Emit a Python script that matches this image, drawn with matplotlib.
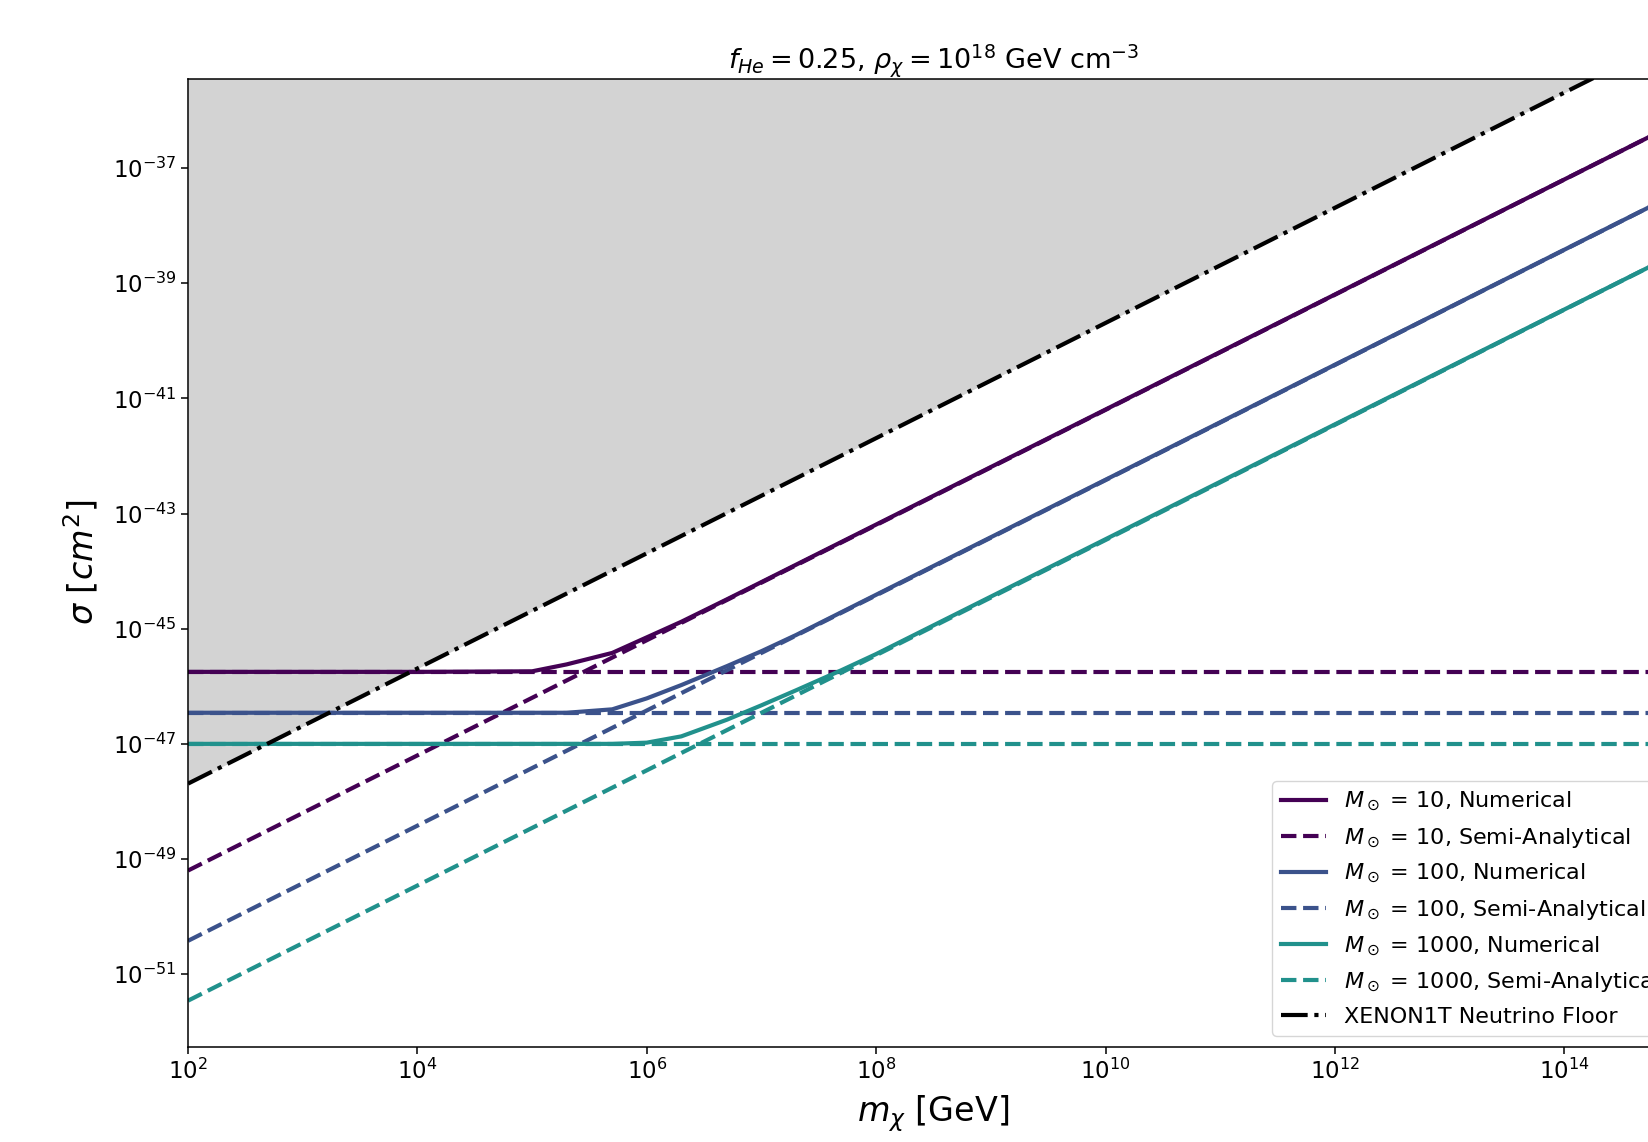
import numpy as np
import matplotlib
matplotlib.use("Agg")
import matplotlib.pyplot as plt
from matplotlib.ticker import NullLocator

# values (sigma in cm^2, mass in GeV)
m_num_10 = [1e2, 1e4, 1e5, 2e5, 5e5, 1e6, 2e6, 5e6, 1e7, 1e15]
sig_num_10 = [1.78e-46, 1.78e-46, 1.82e-46, 2.40e-46, 3.80e-46, 7.08e-46,
              1.32e-45, 3.24e-45, 6.46e-45, 6.31e-37]

m_num_100 = [1e2, 1e5, 2e5, 5e5, 1e6, 2e6, 5e6, 1e7, 2e7, 1e8, 1e15]
sig_num_100 = [3.47e-47, 3.47e-47, 3.47e-47, 3.98e-47, 6.17e-47, 1.05e-46,
               2.24e-46, 4.07e-46, 7.76e-46, 3.89e-45, 3.80e-38]

m_num_1000 = [1e2, 5e5, 1e6, 2e6, 5e6, 1e7, 2e7, 5e7, 1e8, 1e15]
sig_num_1000 = [1.0e-47, 1.0e-47, 1.05e-47, 1.35e-47, 2.63e-47, 4.68e-47,
                8.51e-47, 1.91e-46, 3.63e-46, 3.47e-39]

# semi-analytical: flat branch and rising branch
m_semi = [1e2, 1e15]
sig_flat_10 = [1.78e-46, 1.78e-46]
sig_rise_10 = [6.31e-50, 6.31e-37]
sig_flat_100 = [3.47e-47, 3.47e-47]
sig_rise_100 = [3.80e-51, 3.80e-38]
sig_flat_1000 = [1.0e-47, 1.0e-47]
sig_rise_1000 = [3.47e-52, 3.47e-39]

m_xenon = [1e2, 1e15]
sig_xenon = [2.04e-48, 2.04e-35]

masses = [10, 100, 1000]
colors = ["#440154", "#3b528b", "#21918c"]

num_m = [m_num_10, m_num_100, m_num_1000]
num_sig = [sig_num_10, sig_num_100, sig_num_1000]
flat_sig = [sig_flat_10, sig_flat_100, sig_flat_1000]
rise_sig = [sig_rise_10, sig_rise_100, sig_rise_1000]

lw = 3

fig = plt.figure(figsize=(16.48, 11.42), dpi=100)
ax = fig.add_axes([0.1141, 0.0834, 1.0188 - 0.1141, 0.9310 - 0.0834])

ymin, ymax = 10**-52.26, 10**-35.45

ax.fill_between(m_xenon, sig_xenon, [1e-30, 1e-30], color="lightgray", lw=0)

for M, c, mm, ss, fl, ri in zip(masses, colors, num_m, num_sig, flat_sig, rise_sig):
    ax.plot(mm, ss, color=c, lw=lw, label=rf"$M_\odot$ = {M}, Numerical")
    ax.plot(m_semi, fl, color=c, lw=lw, ls="--",
            label=rf"$M_\odot$ = {M}, Semi-Analytical")
    ax.plot(m_semi, ri, color=c, lw=lw, ls="--")

ax.plot(m_xenon, sig_xenon, color="k", lw=lw, ls="-.",
        label="XENON1T Neutrino Floor")

ax.set_xscale("log")
ax.set_yscale("log")
ax.set_xlim(1e2, 1e15)
ax.set_ylim(ymin, ymax)
ax.set_xticks([10.0**k for k in range(2, 15, 2)])
ax.set_yticks([10.0**k for k in range(-51, -36, 2)])
ax.xaxis.set_minor_locator(NullLocator())
ax.yaxis.set_minor_locator(NullLocator())
ax.tick_params(labelsize=16.5, length=4.8, width=1.1)
for sp in ax.spines.values():
    sp.set_linewidth(1.1)

ax.set_xlabel(r"$m_\chi$ [GeV]", fontsize=24, labelpad=7)
ax.set_ylabel(r"$\sigma\ [cm^2]$", fontsize=24, labelpad=9)
ax.set_title(r"$f_{He} = 0.25$, $\rho_\chi = 10^{18}$ GeV cm$^{-3}$", fontsize=19.5)

ax.legend(loc="lower right", fontsize=16, labelspacing=0.57)

fig.savefig("out.png", dpi=100)
